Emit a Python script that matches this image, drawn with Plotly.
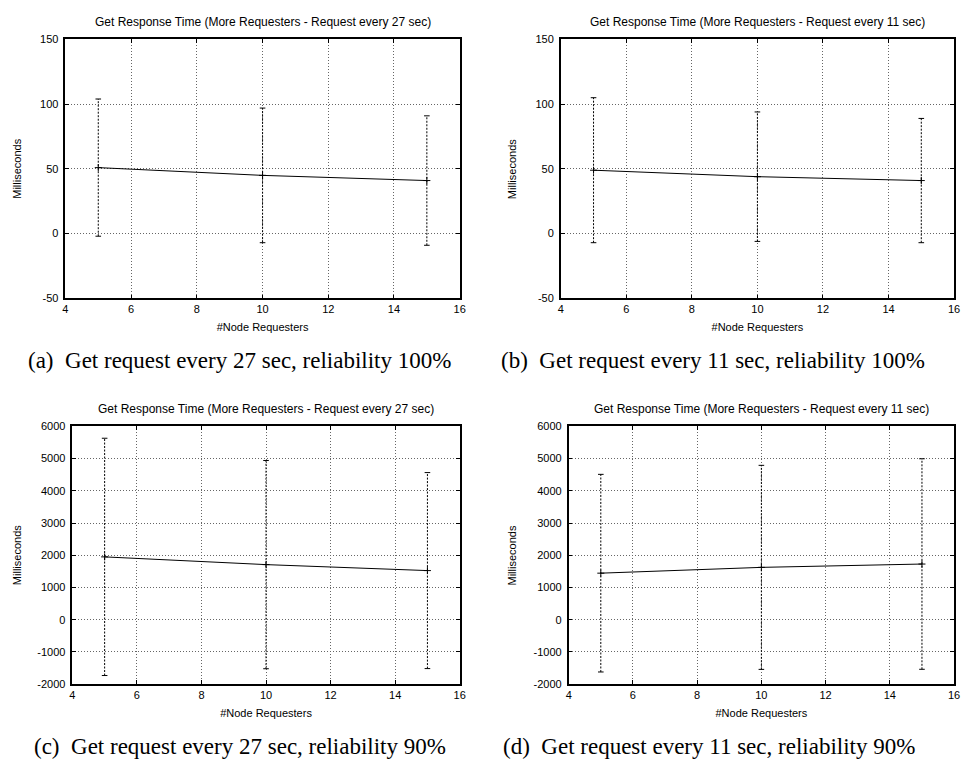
import plotly.graph_objects as go

# Number of requesting nodes
nodes = [5, 10, 15]

# Mean get response time (ms) and standard deviation per configuration
mean_a = [51, 45, 41]
err_a = [53, 52, 50]
mean_b = [49, 44, 41]
err_b = [56, 50, 48]
mean_c = [1950, 1710, 1525]
err_c = [3680, 3230, 3040]
mean_d = [1445, 1625, 1728]
err_d = [3065, 3165, 3265]

# Axis ticks (gnuplot style, plain hyphen for negatives)
x_ticks = [4, 6, 8, 10, 12, 14, 16]
x_ticklabels = ["4", "6", "8", "10", "12", "14", "16"]
y_ticks_small = [-50, 0, 50, 100, 150]
y_ticklabels_small = ["-50", "0", "50", "100", "150"]
y_ticks_large = [-2000, -1000, 0, 1000, 2000, 3000, 4000, 5000, 6000]
y_ticklabels_large = ["-2000", "-1000", "0", "1000", "2000", "3000", "4000", "5000", "6000"]

titles = [
    "Get Response Time (More Requesters - Request every 27 sec)",
    "Get Response Time (More Requesters - Request every 11 sec)",
    "Get Response Time (More Requesters - Request every 27 sec)",
    "Get Response Time (More Requesters - Request every 11 sec)",
]
captions = [
    "(a)\u00a0 Get request every 27 sec, reliability 100%",
    "(b)\u00a0 Get request every 11 sec, reliability 100%",
    "(c)\u00a0 Get request every 27 sec, reliability 90%",
    "(d)\u00a0 Get request every 11 sec, reliability 90%",
]
y_ranges = [[-50, 150], [-50, 150], [-2000, 6000], [-2000, 6000]]
y_tickset = [
    (y_ticks_small, y_ticklabels_small),
    (y_ticks_small, y_ticklabels_small),
    (y_ticks_large, y_ticklabels_large),
    (y_ticks_large, y_ticklabels_large),
]

W, H = 968, 767
# plot-area boxes in pixels: left, right, top, bottom
boxes = [
    (63, 461, 34, 297),
    (563, 960, 34, 297),
    (70, 461, 427, 689),
    (571, 960, 427, 689),
]
caption_pos = [(239, 360), (717, 360), (239, 752), (713, 752)]
ytitle_x = [14, 514, 14, 514]

FONT = "Liberation Sans, Arial, sans-serif"
SERIF = "Liberation Serif, Times New Roman, serif"

fig = go.Figure()
series = [(mean_a, err_a), (mean_b, err_b), (mean_c, err_c), (mean_d, err_d)]

for i, (means, errs) in enumerate(series):
    n = i + 1
    xa = "x" if n == 1 else f"x{n}"
    ya = "y" if n == 1 else f"y{n}"
    lo = [m - e for m, e in zip(means, errs)]
    hi = [m + e for m, e in zip(means, errs)]

    # dashed vertical error bars
    ex, ey = [], []
    for x, l, h in zip(nodes, lo, hi):
        ex += [x, x, None]
        ey += [l, h, None]
    fig.add_trace(go.Scatter(
        x=ex, y=ey, mode="lines", xaxis=xa, yaxis=ya,
        line=dict(color="black", width=1, dash="2px,1.5px"),
        showlegend=False, hoverinfo="skip"))
    # error bar caps
    fig.add_trace(go.Scatter(
        x=nodes + nodes, y=lo + hi, mode="markers", xaxis=xa, yaxis=ya,
        marker=dict(symbol="line-ew", size=4, line=dict(color="black", width=1)),
        showlegend=False, hoverinfo="skip"))
    # mean line
    fig.add_trace(go.Scatter(
        x=nodes, y=means, mode="lines+markers", xaxis=xa, yaxis=ya,
        line=dict(color="black", width=1),
        marker=dict(symbol="cross-thin", size=5, line=dict(color="black", width=1)),
        showlegend=False))

    l, r, t, b = boxes[i]
    common = dict(
        showline=True, linecolor="black", linewidth=1.5, mirror="allticks",
        ticks="inside", ticklen=4, tickcolor="black", tickwidth=1,
        showgrid=True, gridcolor="#666666", gridwidth=1, griddash="1px,2px",
        zeroline=False, tickfont=dict(family=FONT, size=11, color="black"),
    )
    yv, yt = y_tickset[i]
    fig.layout[f"xaxis{'' if n == 1 else n}"] = dict(
        common, domain=[l / W, r / W], anchor=ya, range=[4, 16],
        tickmode="array", tickvals=x_ticks, ticktext=x_ticklabels,
        title=dict(text="#Node Requesters", font=dict(family=FONT, size=11, color="black"),
                   standoff=9),
    )
    fig.layout[f"yaxis{'' if n == 1 else n}"] = dict(
        common, domain=[1 - b / H, 1 - t / H], anchor=xa, range=y_ranges[i],
        tickmode="array", tickvals=yv, ticktext=yt, ticklabelstandoff=3,
    )

    fig.add_annotation(
        text=titles[i], xref="paper", yref="paper",
        x=(l + r) / 2 / W, y=1 - (t - 18) / H, showarrow=False,
        font=dict(family=FONT, size=12, color="black"), xanchor="center", yanchor="middle")
    fig.add_annotation(
        text="Milliseconds", xref="paper", yref="paper", textangle=-90,
        x=ytitle_x[i] / W, y=1 - (t + b) / 2 / H, showarrow=False,
        font=dict(family=FONT, size=11, color="black"), xanchor="center", yanchor="middle")
    cx, cy = caption_pos[i]
    fig.add_annotation(
        text=captions[i], xref="paper", yref="paper",
        x=cx / W, y=1 - cy / H, showarrow=False,
        font=dict(family=SERIF, size=23, color="black"), xanchor="center", yanchor="middle")

fig.update_layout(
    width=W, height=H, margin=dict(l=0, r=0, t=0, b=0),
    paper_bgcolor="white", plot_bgcolor="white",
)

fig.write_html("out.html")
